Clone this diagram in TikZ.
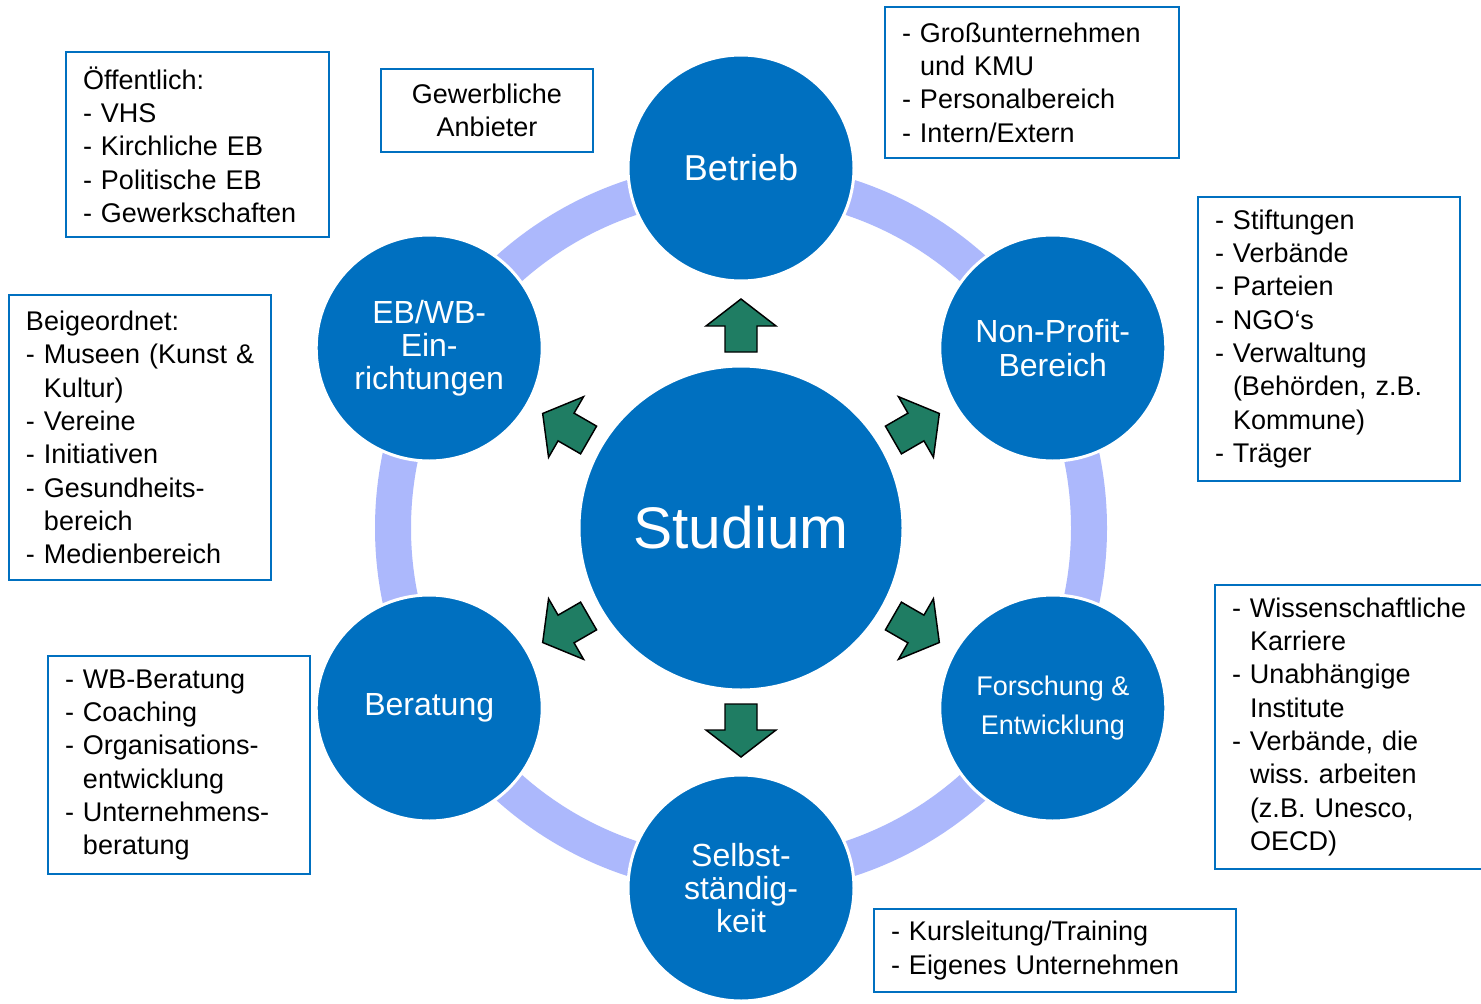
\documentclass[tikz,border=0pt]{standalone}
\usepackage{fontspec}
\setmainfont{Liberation Sans}
\definecolor{circblue}{RGB}{0,112,192}
\definecolor{ringcol}{RGB}{172,184,252}
\definecolor{arrowgreen}{RGB}{31,125,99}
\definecolor{boxblue}{RGB}{0,112,192}
\newcommand{\bul}{\mbox{-}~}
\newcommand{\ind}{\hphantom{-~}}
\begin{document}
\begin{tikzpicture}[x=0.75pt,y=-0.75pt,
  bubble/.style={circle, fill=circblue, draw=white, line width=2.25pt, minimum size=169.5pt, inner sep=0pt, text=white, align=center, font=\fontsize{24pt}{24.75pt}\selectfont},
  infobox/.style={draw=boxblue, line width=1.5pt, align=left, inner xsep=12.75pt, inner ysep=0pt, text=black, font=\fontsize{20.25pt}{25pt}\selectfont},
  blockarrow/.style={fill=arrowgreen, draw=black, line width=1.1pt, line join=miter}]
\path[use as bounding box, clip] (0,0) rectangle (1481,1003);
\fill[white] (0,0) rectangle (1481,1003);
\coordinate (c) at (741,528);
% ring
\draw[ringcol, line width=27pt] (c) circle[radius=348];
% circles
\node[bubble, minimum size=243pt, font=\fontsize{44pt}{50pt}\selectfont] (studium) at (c) {Studium};
\node[bubble, font=\fontsize{27pt}{32pt}\selectfont] (betrieb) at (741,168) {Betrieb};
\node[bubble, font=\fontsize{24pt}{25.5pt}\selectfont] (nonprofit) at (1052.8,348) {Non-Profit-\\Bereich};
\node[bubble, font=\fontsize{20.25pt}{29.25pt}\selectfont] (forschung) at (1052.8,708) {Forschung \&\\Entwicklung};
\node[bubble] (selbst) at (741,888) {Selbst-\\ständig-\\keit};
\node[bubble] (beratung) at (429.2,708) {Beratung};
\node[bubble] (ebwb) at (429.2,348) {EB/WB-\\Ein-\\richtungen};
% block arrows
\foreach \a in {90,30,-30,-90,-150,150}{
  \begin{scope}[shift={(c)}, rotate=\a]
    \draw[blockarrow] (176,-16) -- (202,-16) -- (202,-35) -- (229,0) -- (202,35) -- (202,16) -- (176,16) -- cycle;
  \end{scope}
}
% info boxes
\node[infobox, text width=171.75pt, minimum height=138.75pt] (oeff) at (197.5,144.5)
  {Öffentlich:\\\bul VHS\\\bul Kirchliche~EB\\\bul Politische~EB\\\bul Gewerkschaften};
\node[infobox, align=center, text width=133.5pt, minimum height=62.25pt] (gewerb) at (487,110.5)
  {Gewerbliche\\Anbieter};
\node[infobox, text width=195pt, minimum height=113.25pt] (gross) at (1032,82.5)
  {\bul Großunternehmen\\\ind und~KMU\\\bul Personalbereich\\\bul Intern/Extern};
\node[infobox, text width=171pt, minimum height=213pt] (stift) at (1329,339)
  {\bul Stiftungen\\\bul Verbände\\\bul Parteien\\\bul NGO‘s\\\bul Verwaltung\\\ind (Behörden,~z.B.\\\ind Kommune)\\\bul Träger};
\node[infobox, text width=171pt, minimum height=213.75pt] (beig) at (140,437.5)
  {Beigeordnet:\\\bul Museen~(Kunst~\&\\\ind Kultur)\\\bul Vereine\\\bul Initiativen\\\bul Gesundheits-\\\ind bereich\\\bul Medienbereich};
\node[infobox, text width=184.5pt, minimum height=213pt] (wiss) at (1355,727)
  {\bul Wissenschaftliche\\\ind Karriere\\\bul Unabhängige\\\ind Institute\\\bul Verbände,~die\\\ind wiss.~arbeiten\\\ind (z.B.~Unesco,\\\ind OECD)};
\node[infobox, text width=171pt, minimum height=163.5pt] (wbber) at (179,765)
  {\bul WB-Beratung\\\bul Coaching\\\bul Organisations-\\\ind entwicklung\\\bul Unternehmens-\\\ind beratung};
\node[infobox, text width=246pt, minimum height=62.25pt] (kurs) at (1055,950.5)
  {\bul Kursleitung/Training\\\bul Eigenes~Unternehmen};
\end{tikzpicture}
\end{document}
